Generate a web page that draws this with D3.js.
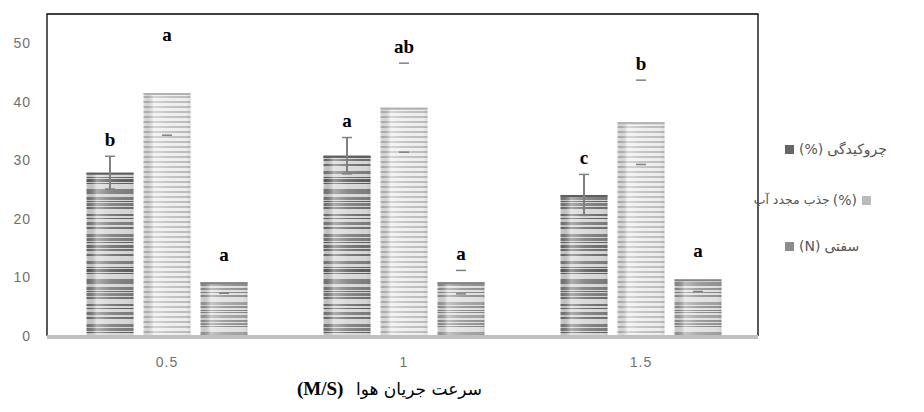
<!DOCTYPE html>
<html><head><meta charset="utf-8">
<script src="https://cdn.jsdelivr.net/npm/d3@7"></script>
<style>body{margin:0;background:#fff}svg{display:block}</style>
</head><body><svg id="c" width="924" height="412"></svg>
<script>
// ---- data ----
const categories = ["0.5", "1", "1.5"];
const seriesNames = ["چروکیدگی", "جذب مجدد آب", "سفتی"];
const seriesUnits = ["(%)", "(%)", "(N)"];
const shrinkage = [27.9, 30.8, 24.1];
const rehydration = [41.5, 39.0, 36.5];
const firmness = [9.2, 9.2, 9.7];
const shrinkageErr = [2.8, 3.1, 3.5];
const rehydrationErr = [7.2, 7.6, 7.2];
const firmnessErr = [1.9, 2.0, 2.1];
const shrinkageLetters = ["b", "a", "c"];
const rehydrationLetters = ["a", "ab", "b"];
const firmnessLetters = ["a", "a", "a"];
const yTicks = [0, 10, 20, 30, 40, 50];
const xTitle = "سرعت جریان هوا";
const xUnit = "(M/S)";

// ---- style ----
const hiddenUpperCaps = new Set(["0-1", "0-2", "2-2"]); // "group-series"
const seriesStyle = [
  {bg: "#d6d6d6", stripe: ["#5e5e5e", "#6e6e6e", "#7c7c7c"], legend: "#666", stem: true},
  {bg: "#eeeeee", stripe: ["#b2b2b2", "#bdbdbd", "#c8c8c8"], legend: "#bbb", stem: false},
  {bg: "#e0e0e0", stripe: ["#858585", "#929292", "#a0a0a0"], legend: "#8c8c8c", stem: false}
];

const values = [shrinkage, rehydration, firmness];
const errs = [shrinkageErr, rehydrationErr, firmnessErr];
const letters = [shrinkageLetters, rehydrationLetters, firmnessLetters];

const svg = d3.select("#c");
const L = 47, R = 758, T = 14, B = 336;

const y = d3.scaleLinear().domain([0, 55]).range([B, T]);
const x0 = d3.scaleBand().domain(categories).range([L, R]).padding(0);
const x1 = d3.scaleBand().domain(d3.range(3)).range([39.5, 200.5]).paddingInner(0.175);

// patterns
const defs = svg.append("defs");
seriesStyle.forEach((s, si) => {
  const ph = 90;
  const p = defs.append("pattern").attr("id", "pat" + si)
    .attr("patternUnits", "userSpaceOnUse").attr("width", 4).attr("height", ph)
    .attr("y", B);
  p.append("rect").attr("width", 4).attr("height", ph).attr("fill", s.bg);
  let yy = 0, k = si * 7 + 3;
  while (yy < ph) {
    k = (k * 29 + 11) % 97;
    const h = 1 + (k % 3) + (k % 13 === 0 ? 2 : 0);
    const gap = (k % 7 === 0) ? 5 : (k % 5 === 0) ? 3 : (k % 4 === 0 ? 2 : 1);
    p.append("rect").attr("y", yy).attr("width", 4).attr("height", Math.min(h, ph - yy))
      .attr("fill", s.stripe[k % 3]);
    yy += h + gap;
  }
});
const g = defs.append("linearGradient").attr("id", "shade").attr("x1", 0).attr("x2", 1).attr("y1", 0).attr("y2", 0);
[[0, "#000", 0.06], [0.22, "#fff", 0.38], [0.5, "#fff", 0.12], [0.85, "#fff", 0.0], [1, "#000", 0.08]]
  .forEach(([o, c, a]) => g.append("stop").attr("offset", o).attr("stop-color", c).attr("stop-opacity", a));

// frame
svg.append("path").attr("d", `M${L},${B}V${T}H${R}V${B}`).attr("fill", "none")
  .attr("stroke", "#000").attr("stroke-width", 1.3);

// y axis labels
svg.append("g").selectAll("text").data(yTicks).join("text")
  .attr("x", 31).attr("y", d => y(d)).attr("dy", "0.36em").attr("text-anchor", "end")
  .attr("font-family", "Liberation Sans, Arial, sans-serif").attr("font-size", 14)
  .attr("letter-spacing", 1).attr("fill", "#707070")
  .text(d => d);

// bars
const flat = [];
categories.forEach((c, gi) => values.forEach((arr, si) => flat.push({c, gi, si, v: arr[gi], e: errs[si][gi], l: letters[si][gi]})));

const bars = svg.append("g");
bars.selectAll("rect.bar").data(flat).join("rect").attr("class", "bar")
  .attr("x", d => x0(d.c) + x1(d.si)).attr("width", x1.bandwidth())
  .attr("y", d => y(d.v)).attr("height", d => B - y(d.v))
  .attr("fill", d => `url(#pat${d.si})`);
bars.selectAll("rect.sh").data(flat).join("rect").attr("class", "sh")
  .attr("x", d => x0(d.c) + x1(d.si)).attr("width", x1.bandwidth())
  .attr("y", d => y(d.v)).attr("height", d => B - y(d.v))
  .attr("fill", "url(#shade)");
bars.selectAll("line.top").data(flat).join("line").attr("class", "top")
  .attr("x1", d => x0(d.c) + x1(d.si)).attr("x2", d => x0(d.c) + x1(d.si) + x1.bandwidth())
  .attr("y1", d => y(d.v) + 1).attr("y2", d => y(d.v) + 1)
  .attr("stroke", d => seriesStyle[d.si].stripe[0]).attr("stroke-width", 2);

// baseline
svg.append("line").attr("x1", L).attr("x2", R).attr("y1", B + 1).attr("y2", B + 1)
  .attr("stroke", "#c0c0c0").attr("stroke-width", 4);

// error bars
const eb = svg.append("g").attr("stroke", "#808080");
flat.forEach(d => {
  const cx = x0(d.c) + x1(d.si) + x1.bandwidth() / 2;
  const st = seriesStyle[d.si];
  if (st.stem) eb.append("line").attr("x1", cx).attr("x2", cx).attr("y1", y(d.v + d.e)).attr("y2", y(d.v - d.e)).attr("stroke-width", 2);
  eb.append("line").attr("x1", cx - 5).attr("x2", cx + 5).attr("y1", y(d.v - d.e)).attr("y2", y(d.v - d.e)).attr("stroke-width", 1.5);
  if (!hiddenUpperCaps.has(d.gi + "-" + d.si))
    eb.append("line").attr("x1", cx - 5).attr("x2", cx + 5).attr("y1", y(d.v + d.e)).attr("y2", y(d.v + d.e)).attr("stroke-width", 1.5);
});

// letters
svg.append("g").selectAll("text").data(flat).join("text")
  .attr("x", d => x0(d.c) + x1(d.si) + x1.bandwidth() / 2)
  .attr("y", d => y(d.v + d.e) - 17).attr("dy", "0.35em").attr("text-anchor", "middle")
  .attr("font-family", "Liberation Serif, Times New Roman, serif").attr("font-weight", "bold")
  .attr("font-size", 19).attr("fill", "#000").text(d => d.l);

// x labels
svg.append("g").selectAll("text").data(categories).join("text")
  .attr("x", d => x0(d) + x0.bandwidth() / 2 + 1.5).attr("y", 362).attr("dy", "0.35em")
  .attr("text-anchor", "middle").attr("font-family", "Liberation Sans, Arial, sans-serif")
  .attr("font-size", 14).attr("letter-spacing", 1).attr("fill", "#707070").text(d => d);

// x title
svg.append("text").attr("x", 297).attr("y", 388).attr("dy", "0.35em")
  .attr("font-family", "Liberation Serif, serif").attr("font-weight", "bold").attr("font-size", 19)
  .attr("fill", "#000").text(xUnit);
svg.append("text").attr("x", 482).attr("y", 389).attr("dy", "0.35em").attr("text-anchor", "end")
  .attr("font-family", "DejaVu Sans, sans-serif").attr("font-size", 17).attr("letter-spacing", 0.5)
  .attr("fill", "#000").text(xTitle);

// legend
const legendPos = [{y: 149, sq: "left"}, {y: 200, sq: "right"}, {y: 246, sq: "left"}];
const leg = svg.append("g").attr("font-family", "DejaVu Sans, sans-serif").attr("font-size", 14).attr("fill", "#555");
seriesNames.forEach((name, i) => {
  const lp = legendPos[i];
  const st = seriesStyle[i];
  if (lp.sq === "left") {
    leg.append("rect").attr("x", 785).attr("y", lp.y - 4).attr("width", 9).attr("height", 9).attr("fill", st.legend);
    const u = leg.append("text").attr("x", 799).attr("y", lp.y).attr("dy", "0.35em").text(seriesUnits[i]);
    const w = u.node().getComputedTextLength();
    leg.append("text").attr("x", 799 + w + 4).attr("y", lp.y).attr("dy", "0.35em").text(name);
  } else {
    leg.append("rect").attr("x", 862).attr("y", lp.y - 4).attr("width", 9).attr("height", 9).attr("fill", st.legend);
    const u = leg.append("text").attr("x", 857).attr("y", lp.y).attr("dy", "0.35em").attr("text-anchor", "end").text(seriesUnits[i]);
    const w = u.node().getComputedTextLength();
    leg.append("text").attr("x", 857 - w - 3).attr("y", lp.y).attr("dy", "0.35em").attr("text-anchor", "end")
      .attr("font-size", 12.5).text(name);
  }
});
</script></body></html>
